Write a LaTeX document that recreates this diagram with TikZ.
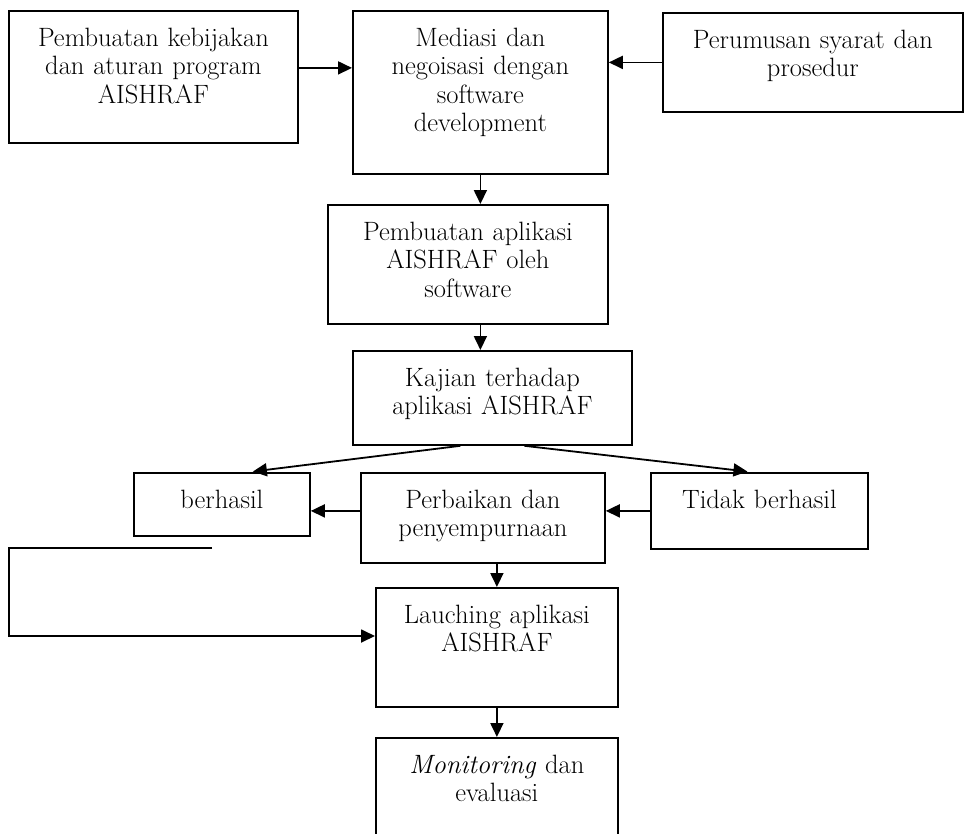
\documentclass[tikz,border=0pt]{standalone}
\usepackage{tikz}
\usetikzlibrary{arrows.meta}

\begin{document}
\begin{tikzpicture}[x=1pt,y=-1pt,
  box/.style={draw, line width=1.8pt, anchor=north west, align=center,
    inner xsep=3pt, inner ysep=3pt, text height=32.5pt,
    font=\fontsize{26.5}{28.5}\selectfont},
  flow/.style={line width=1.8pt, -{Triangle[length=14pt,width=13pt]}}]
  \useasboundingbox (0,0) rectangle (964,833);
  \clip (0,0) rectangle (964,833);

  \node[box, text width=283pt, text depth=93.5pt] (kebijakan) at (8,10)
    {Pembuatan kebijakan\\ dan aturan program\\ AISHRAF};
  \node[box, text width=249pt, text depth=124.5pt] (mediasi) at (352,10)
    {Mediasi dan\\ negoisasi dengan\\ software\\ development};
  \node[box, text width=294pt, text depth=60.5pt] (perumusan) at (662,12)
    {Perumusan syarat dan\\ prosedur};
  \node[box, text width=274pt, text depth=80.5pt] (aplikasi) at (327,204)
    {Pembuatan aplikasi\\ AISHRAF oleh\\ software};
  \node[box, text width=273pt, text depth=55.5pt] (kajian) at (352,350)
    {Kajian terhadap\\ aplikasi AISHRAF};
  \node[box, text width=170pt, text depth=24.5pt] (berhasil) at (133,472)
    {berhasil};
  \node[box, text width=238pt, text depth=51.5pt] (perbaikan) at (360,472)
    {Perbaikan dan\\ penyempurnaan};
  \node[box, text width=211pt, text depth=37.5pt] (tidak) at (650,472)
    {Tidak berhasil};
  \node[box, text width=236pt, text depth=80.5pt] (launching) at (375,587)
    {Lauching aplikasi\\ AISHRAF};
  \node[box, text width=236pt, text depth=130pt] (monitoring) at (375,737)
    {\emph{Monitoring} dan\\ evaluasi};

  % top row into mediasi
  \coordinate (akeb) at ([yshift=9pt]kebijakan.east);
  \draw[flow] (akeb) -- (akeb -| mediasi.west);
  \draw[flow] (perumusan.west) -- (perumusan.west -| mediasi.east);
  \draw[flow] (mediasi.south) -- (mediasi.south |- aplikasi.north);
  \draw[flow] (aplikasi.south -| mediasi.south) -- (kajian.north -| mediasi.south);

  % hasil kajian
  \draw[flow, shorten >=4pt] ([xshift=-32pt]kajian.south) -- ([xshift=27pt]berhasil.north);
  \draw[flow, shorten >=4pt] ([xshift=32pt]kajian.south) -- ([xshift=-8pt]tidak.north);
  \draw[flow] (tidak.west) -- (tidak.west -| perbaikan.east);
  \draw[flow] (tidak.west -| perbaikan.west) -- (tidak.west -| berhasil.east);
  \draw[flow] (launching.north |- perbaikan.south) -- (launching.north);

  % jalur balik ke launching
  \coordinate (balik) at (212,548);
  \coordinate (sudut) at (9,636);
  \draw[flow] (balik) -| (sudut) -- (sudut -| launching.west);
  \draw[flow] (launching.south) -- (monitoring.north);
\end{tikzpicture}
\end{document}
